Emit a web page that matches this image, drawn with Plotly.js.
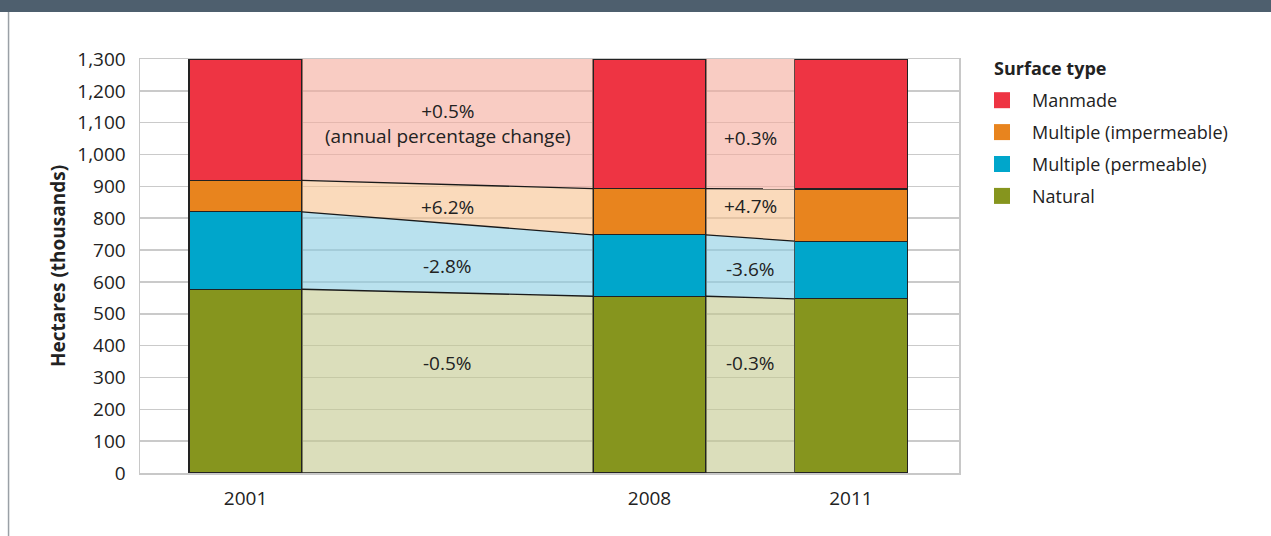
<!DOCTYPE html>
<html>
<head>
<meta charset="utf-8">
<script src="https://cdn.plot.ly/plotly-3.0.1.min.js"></script>
<style>
  html, body { margin: 0; padding: 0; background: #fff; }
  #chart { width: 1271px; height: 536px; }
</style>
</head>
<body>
<div id="chart"></div>
<script>
// Surface type by year, thousands of hectares
const years = ['2001', '2008', '2011'];
const natural = [577, 555, 547];
const permeable = [243, 193, 181];
const impermeable = [99, 145, 164];
const manmade = [381, 407, 408];

// annual % change labels, period 2001-2008 and 2008-2011 (natural -> manmade)
const change1 = ['-0.5%', '-2.8%', '+6.2%', '+0.5%<br>(annual percentage change)'];
const change2 = ['-0.3%', '-3.6%', '+4.7%', '+0.3%'];
const labelY1 = [346, 651, 836, 1097];
const labelY2 = [346, 641, 839, 1053];

const names = ['Natural', 'Multiple (permeable)', 'Multiple (impermeable)', 'Manmade'];
const series = [natural, permeable, impermeable, manmade];
const solid = ['#86951e', '#00a6cb', '#e8841e', '#ee3443'];
const band = ['rgba(195,200,142,0.6)', 'rgba(138,205,227,0.6)', 'rgba(247,193,142,0.6)', 'rgba(245,170,155,0.6)'];

// bar centres on the x axis (bar width = 1 unit)
const X_POS = [0, 3.575, 5.358];
const HALF = 0.5;

const traces = [];

// cumulative bottoms / tops per layer
const bottoms = [], tops = [];
let run = years.map(() => 0);
series.forEach((s, k) => {
  bottoms.push(run.slice());
  run = run.map((v, i) => v + s[i]);
  tops.push(run.slice());
});

// bands between bars
for (let i = 0; i < years.length - 1; i++) {
  const xa = X_POS[i] + HALF, xb = X_POS[i + 1] - HALF;
  series.forEach((s, k) => {
    traces.push({
      type: 'scatter', mode: 'lines', fill: 'toself',
      x: [xa, xb, xb, xa, xa],
      y: [bottoms[k][i], bottoms[k][i + 1], tops[k][i + 1], tops[k][i], bottoms[k][i]],
      fillcolor: band[k], line: { width: 0, color: 'rgba(0,0,0,0)' },
      hoverinfo: 'skip', showlegend: false,
    });
  });
}

// black boundary lines across bands
const lineX = [], lineYs = [[], [], [], []];
for (let i = 0; i < years.length - 1; i++) {
  lineX.push(X_POS[i] + HALF, X_POS[i + 1] - HALF, null);
  lineYs[0].push(0, 0, null);
  for (let k = 0; k < 3; k++) lineYs[k + 1].push(tops[k][i], tops[k][i + 1], null);
}
lineYs.forEach(ly => {
  traces.push({
    type: 'scatter', mode: 'lines', x: lineX, y: ly,
    line: { color: '#1a1a1a', width: 1.3 }, hoverinfo: 'skip', showlegend: false,
  });
});

// stacked bars
series.forEach((s, k) => {
  traces.push({
    type: 'bar', x: X_POS, y: s, width: 1, name: names[k],
    marker: { color: solid[k], line: { color: '#222', width: 1.2 } },
    showlegend: false,
  });
});

// legend entries (top to bottom: Manmade first)
[3, 2, 1, 0].forEach((k, j) => {
  traces.push({
    type: 'scatter', mode: 'markers', x: [null], y: [null], name: names[k],
    marker: { symbol: 'square', size: 16, color: solid[k] },
    legendgroup: 'g' + j, legendrank: j + 1,
  });
});

const annotations = [];
const mid1 = (X_POS[0] + X_POS[1]) / 2, mid2 = (X_POS[1] + X_POS[2]) / 2;
change1.forEach((t, k) => annotations.push({ x: mid1, y: labelY1[k], text: t, showarrow: false, font: { size: 19 } }));
change2.forEach((t, k) => annotations.push({ x: mid2, y: labelY2[k], text: t, showarrow: false, font: { size: 19 } }));
annotations.push({
  xref: 'paper', yref: 'paper', x: (992 - 140) / 819, y: (473 - 68) / 414,
  xanchor: 'left', yanchor: 'middle', showarrow: false,
  text: '<b>Surface type</b>', font: { size: 18 },
});

const layout = {
  width: 1271, height: 536,
  margin: { l: 140, r: 312, t: 59, b: 63 },
  paper_bgcolor: '#fff', plot_bgcolor: '#fff',
  font: { family: 'Open Sans, sans-serif', size: 19, color: '#222' },
  barmode: 'stack',
  xaxis: {
    range: [-0.934, 6.314], tickvals: X_POS, ticktext: years,
    showgrid: false, zeroline: false, ticks: '', ticklabelstandoff: 8,
    showline: true, mirror: true, linecolor: '#c8c8c8', linewidth: 1.5,
    fixedrange: true,
  },
  yaxis: {
    range: [0, 1300], tickvals: [0,100,200,300,400,500,600,700,800,900,1000,1100,1200,1300],
    tickformat: ',d', gridcolor: '#cacaca', gridwidth: 1.5, zeroline: false,
    ticks: '', ticklabelstandoff: 9,
    showline: true, mirror: true, linecolor: '#c8c8c8', linewidth: 1.5,
    title: { text: '<b>Hectares (thousands)</b>', standoff: 6, font: { size: 19 } },
    fixedrange: true,
  },
  legend: {
    x: (972 - 140) / 819, y: (473 - 82) / 414, xanchor: 'left', yanchor: 'top',
    font: { size: 18 }, tracegroupgap: 5.5, itemwidth: 50, bgcolor: 'rgba(0,0,0,0)',
  },
  annotations,
  shapes: [
    { type: 'rect', xref: 'paper', yref: 'paper', x0: -0.18, x1: 1.39, y0: 1.1135, y1: 1.16,
      fillcolor: '#4e5f6e', line: { width: 0 } },
    { type: 'line', xref: 'paper', yref: 'paper', x0: -0.1605, x1: -0.1605, y0: 1.1135, y1: -0.16,
      line: { color: '#9aa0a6', width: 1.5 } },
  ],
  showlegend: true,
};

Plotly.newPlot('chart', traces, layout, { displayModeBar: false, staticPlot: true });
</script>
</body>
</html>
